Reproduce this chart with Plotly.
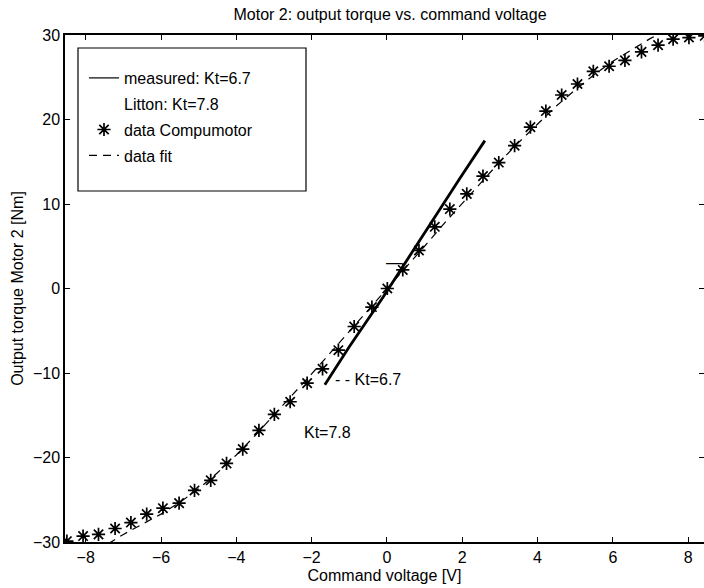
import plotly.graph_objects as go

# ---------------- data ----------------
compu_x = [-8.50, -8.07, -7.66, -7.22, -6.80, -6.38, -5.95, -5.52, -5.11, -4.68,
           -4.26, -3.83, -3.40, -2.99, -2.57, -2.12, -1.71, -1.29, -0.87, -0.40,
           0.01, 0.42, 0.85, 1.27, 1.67, 2.12, 2.55, 2.97, 3.39, 3.81,
           4.22, 4.64, 5.06, 5.48, 5.90, 6.32, 6.76, 7.20, 7.60, 8.02, 8.44]
compu_y = [-29.9, -29.3, -29.1, -28.4, -27.7, -26.7, -26.0, -25.4, -23.9, -22.7,
           -20.7, -19.0, -16.8, -14.9, -13.4, -11.2, -9.5, -7.3, -4.5, -2.2,
           0.0, 2.2, 4.5, 7.3, 9.4, 11.2, 13.3, 14.9, 16.9, 19.1,
           21.0, 22.9, 24.2, 25.7, 26.3, 27.0, 28.0, 28.8, 29.5, 29.7, 29.9]

fit_x = [-7.4, -7.0, -6.5, -6.0, -5.5, -5.0, -4.5, -4.0, -3.5, -3.0, -2.5, -2.0,
         -1.5, -1.0, -0.5, 0.0, 0.5, 1.0, 1.5, 2.0, 2.5, 3.0, 3.5, 4.0, 4.5,
         5.0, 5.5, 6.0, 6.5, 7.0, 7.4]
fit_y = [-30.2, -29.1, -27.9, -26.7, -25.3, -23.7, -21.8, -19.7, -17.4, -15.0, -12.6, -10.1,
         -7.6, -5.1, -2.5, 0.0, 2.5, 5.0, 7.6, 10.1, 12.6, 15.0, 17.3, 19.5, 21.6,
         23.5, 25.3, 26.9, 28.3, 29.6, 30.5]

meas_x = [-1.65, -1.0, -0.1, 1.2, 1.93, 2.6]
meas_y = [-11.4, -6.9, -1.0, 8.0, 13.0, 17.5]

x_ticks = [-8, -6, -4, -2, 0, 2, 4, 6, 8]
y_ticks = [-30, -20, -10, 0, 10, 20, 30]

FONT = "Liberation Sans, Arial, Helvetica, sans-serif"
FS = 16

fig = go.Figure()

# measured line (thick on the plot, thin sample in the legend)
fig.add_trace(go.Scatter(
    x=meas_x, y=meas_y, mode="lines", name="measured: Kt=6.7",
    line=dict(color="black", width=2.8), legendgroup="a", showlegend=False))
fig.add_trace(go.Scatter(
    x=[None], y=[None], mode="lines", name="measured: Kt=6.7",
    line=dict(color="black", width=1.2), legendgroup="a"))
fig.add_trace(go.Scatter(
    x=[None], y=[None], mode="lines", name="Litton: Kt=7.8",
    line=dict(color="white", width=1), legendgroup="b"))
fig.add_trace(go.Scatter(
    x=compu_x, y=compu_y, mode="markers", name="data Compumotor",
    marker=dict(symbol="asterisk-open", size=11, color="black",
                line=dict(color="black", width=1.7)), legendgroup="c"))
fig.add_trace(go.Scatter(
    x=fit_x, y=fit_y, mode="lines", name="data fit",
    line=dict(color="black", width=1.2, dash="8px,6px"), legendgroup="d"))

# right-hand ticks (right axis line itself is outside the photographed area)
fig.add_trace(go.Scatter(x=[None], y=[None], yaxis="y2", showlegend=False))

L, T, B, R = 65, 35, 46, 0
W, H = 704, 588
pw, ph = W - L - R, H - T - B

def px(x):
    return (x - L) / pw

def py(y):
    return (H - B - y) / ph

minus = lambda v: str(v).replace("-", "\u2212")

fig.update_layout(
    width=W, height=H,
    margin=dict(l=L, r=R, t=T, b=B),
    paper_bgcolor="white", plot_bgcolor="white",
    font=dict(family=FONT, size=FS, color="black"),
    title=dict(text="Motor 2: output torque vs. command voltage",
               x=(390 - L) / pw, xref="paper", y=1 - 14 / H, yref="container",
               xanchor="center", yanchor="middle",
               font=dict(family=FONT, size=FS, color="black")),
    xaxis=dict(range=[-8.55, 8.42], tickvals=x_ticks, ticktext=[minus(v) for v in x_ticks],
               ticks="inside", ticklen=5, tickwidth=1, tickcolor="black",
               showline=True, linecolor="black", linewidth=1.5, mirror="ticks",
               showgrid=False, zeroline=False,
               tickfont=dict(family=FONT, size=FS),
               title=dict(text="Command voltage [V]", standoff=5,
                          font=dict(family=FONT, size=FS))),
    yaxis=dict(range=[-30, 30], tickvals=y_ticks, ticktext=[minus(v) for v in y_ticks],
               ticks="inside", ticklen=5, tickwidth=1, tickcolor="black",
               showline=True, linecolor="black", linewidth=1.5, mirror=False,
               showgrid=False, zeroline=False,
               tickfont=dict(family=FONT, size=FS),
               title=dict(text="Output torque Motor 2 [Nm]", standoff=5,
                          font=dict(family=FONT, size=FS))),
    yaxis2=dict(range=[-30, 30], overlaying="y", side="right", tickvals=y_ticks,
                ticks="inside", ticklen=5, tickwidth=1, tickcolor="black",
                showticklabels=False, showline=False, showgrid=False, zeroline=False),
    showlegend=True,
    legend=dict(x=px(84), y=py(61), xanchor="left", yanchor="top",
                bgcolor="rgba(0,0,0,0)", borderwidth=0,
                tracegroupgap=2, itemwidth=30,
                font=dict(family=FONT, size=FS, color="black")),
    shapes=[dict(type="rect", xref="paper", yref="paper",
                 x0=px(78), x1=px(306), y0=py(191), y1=py(48),
                 line=dict(color="black", width=1.2), fillcolor="white", layer="below")],
    annotations=[
        dict(text="- - Kt=6.7", x=-1.43, y=-10.8, xref="x", yref="y",
             xanchor="left", yanchor="middle", showarrow=False,
             font=dict(family=FONT, size=FS, color="black")),
        dict(text="Kt=7.8", x=-2.25, y=-17.0, xref="x", yref="y",
             xanchor="left", yanchor="middle", showarrow=False,
             font=dict(family=FONT, size=FS, color="black")),
        dict(text="\u2014", x=0.2, y=3.1, xref="x", yref="y",
             xanchor="center", yanchor="middle", showarrow=False,
             font=dict(family=FONT, size=FS, color="black")),
    ],
)

fig.write_html("out.html")
